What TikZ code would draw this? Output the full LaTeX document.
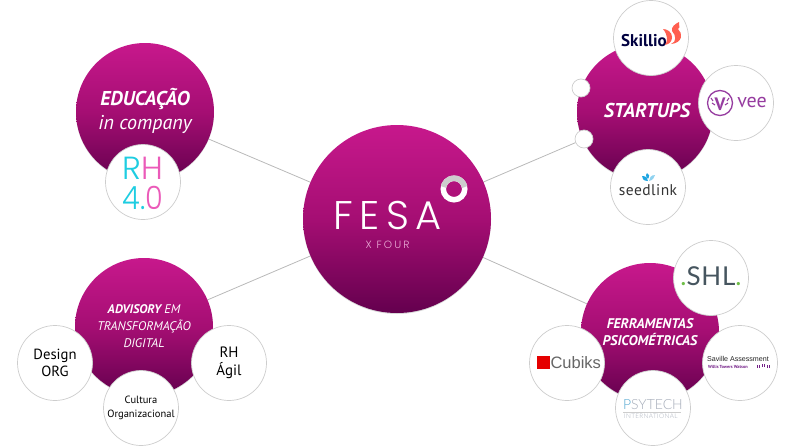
\documentclass[tikz,border=0pt]{standalone}
\usepackage{fontspec}
\setmainfont{PT Sans}
\newfontfamily\logofont{Poppins Light}
\newfontfamily\lightfont{Lato Light}
\newfontfamily\plainfont{Lato}
\newfontfamily\arialfont{Liberation Sans}
\newfontfamily\rhfont[LetterSpace=6]{Poppins Light}
\newfontfamily\rhfontslim[FakeStretch=.9,LetterSpace=2]{Poppins Light}
\usetikzlibrary{positioning, shadows, backgrounds}
\definecolor{colorHubTop}{RGB}{199,24,140}
\definecolor{colorHubMid}{RGB}{165,14,115}
\definecolor{colorHubBottom}{RGB}{100,0,78}
\definecolor{colorLink}{RGB}{185,185,185}
\definecolor{colorRing}{RGB}{205,205,205}
\definecolor{colorVee}{RGB}{150,60,160}
\definecolor{colorWtw}{RGB}{115,30,135}
\definecolor{colorSkillio}{RGB}{255,95,80}
\definecolor{colorSeed}{RGB}{30,165,225}
\definecolor{colorRhCyan}{RGB}{30,205,225}
\definecolor{colorRhPink}{RGB}{235,90,185}
\definecolor{colorShl}{RGB}{70,85,95}
\definecolor{colorShlDot}{RGB}{110,190,70}
\definecolor{colorPsy}{RGB}{165,172,185}
\tikzset{
  hub/.style={circle, inner sep=0pt, outer sep=0pt, minimum size=138pt, align=center, text=white,
    top color=colorHubTop, bottom color=colorHubBottom, middle color=colorHubMid,
    drop shadow={opacity=.3, shadow xshift=0pt, shadow yshift=-1pt}},
  satellite/.style={circle, draw=colorRing, line width=.7pt, fill=white, inner sep=0pt, outer sep=0pt,
    minimum size=75pt, align=center, text=black},
  dot/.style={satellite, minimum size=18pt},
  link/.style={draw=colorLink, line width=.8pt},
  logo/.style={inner sep=0pt, outer sep=0pt, align=center},
  veetick/.style={colorVee, line width=1pt}
}
\begin{document}
\begin{tikzpicture}[x=1pt, y=-1pt]
\useasboundingbox (0,0) rectangle (794,447);
% hubs
\node[hub, minimum size=188pt] (fesa) at (397,219) {};
\node[hub] (edu) at (145,112) {};
\node[hub, minimum size=136pt] (startups) at (645,112) {};
\node[hub] (advisory) at (144,327) {};
\node[hub] (tools) at (650,332) {};
% satellites
\node[satellite] (rh40) at (143,182) {};
\node[satellite] (skillio) at (651,38) {};
\node[satellite] (vee) at (736,103) {};
\node[satellite] (seedlink) at (648,187) {};
\node[dot] (dotA) at (581,88) {};
\node[dot] (dotB) at (584,139) {};
\node[satellite] (shl) at (711,278) {};
\node[satellite] (saville) at (740,363) {};
\node[satellite] (cubiks) at (567,363) {};
\node[satellite] (psytech) at (653,408) {};
\node[satellite, font=\fontsize{14.7}{17}\selectfont] (design) at (55,363) {Design\\ORG};
\node[satellite, font=\fontsize{10.5}{14}\selectfont] (cultura) at (141,408) {Cultura\\Organizacional};
\node[satellite, font=\fontsize{15}{17.5}\selectfont] (agil) at (229,363) {RH\\Ágil};
% links
\begin{scope}[on background layer]
\draw[link] (fesa) -- (edu);
\draw[link] (fesa) -- (advisory);
\draw[link] (fesa) -- (tools);
\draw[link] (fesa) -- (dotB);
\end{scope}
% hub texts
\node[logo, text=white, font=\fontsize{20}{23.5}\selectfont\itshape] (eduText) at (145,111) {\textbf{EDUCAÇÃO}\\in company};
\node[logo, text=white, font=\fontsize{20}{24}\selectfont\itshape] (startupsText) at (647,110) {\textbf{STARTUPS}};
\node[logo, text=white, font=\fontsize{12.5}{17}\selectfont\itshape] (advisoryText) at (144,326) {\textbf{ADVISORY} EM\\TRANSFORMAÇÃO\\DIGITAL};
\node[logo, text=white, font=\fontsize{14}{17.5}\selectfont\itshape] (toolsText) at (650,332) {\textbf{FERRAMENTAS}\\\textbf{PSICOMÉTRICAS}};
% fesa logo
\node[logo, text=white, font=\fontsize{40}{42}\logofont\addfontfeature{LetterSpace=16}] (fesaText) at (387.5,215) {FESA};
\node[logo, text=colorHubTop!35!white, below=12pt of fesaText, font=\fontsize{10.5}{12}\logofont\addfontfeature{LetterSpace=20}] (fourText) {X FOUR};
\node[circle, draw=white, line width=5.5pt, minimum size=21.5pt, inner sep=0pt] (ring) at (454,189) {};
\draw[colorRing, line width=5.5pt] ([shift={(10.75,0)}]ring.center) ++(0,-2) arc[start angle=10, end angle=170, radius=10.75pt];
% rh 4.0
\node[logo, font=\fontsize{32}{32}\rhfont] (rhText) at (143,168) {\textcolor{colorRhCyan}{R}\textcolor{colorRhPink}{H}};
\node[logo, font=\fontsize{32}{32}\rhfontslim] (rhVersion) at (143,198) {\textcolor{colorRhCyan}{4.}\textcolor{colorRhPink}{0}};
% skillio
\node[logo, text=black!75!blue, font=\fontsize{17}{18}\selectfont\bfseries] (skillioText) at (644,41) {Skillio};
\fill[colorSkillio] (663,29) .. controls (667,29) and (672,32) .. (672,37) .. controls (672,41) and (670,44) .. (665,45) .. controls (668,41) and (668,35) .. (663,29) -- cycle;
\fill[colorSkillio] (671,44) .. controls (677,42) and (676,35) .. (672,31) .. controls (671,27) and (675,24) .. (679,22) .. controls (678,25) and (681,27) .. (678,29) .. controls (683,33) and (683,43) .. (671,44) -- cycle;
% vee
\draw[colorVee, line width=1.3pt] (720,103) circle[radius=12.5pt];
\node[logo, text=colorVee, font=\fontsize{18}{18}\selectfont\bfseries] (veeMark) at (720,104) {V};
\draw[veetick] (713,101) -- (711,98);
\draw[veetick] (727,101) -- (729,98);
% second pair of ticks
\draw[veetick] (715,105) -- (712,103);
\draw[veetick] (725,105) -- (728,103);
\node[logo, text=colorVee, font=\fontsize{20}{20}\selectfont] (veeText) at (752,102) {vee};
% seedlink
\node[logo, text=black!80, font=\fontsize{15.5}{16}\selectfont\addfontfeature{LetterSpace=3}] (seedText) at (648,190) {seedlink};
\fill[colorSeed] (648,181) .. controls (643,181) and (642,178) .. (642,176) .. controls (646,176) and (648,178) .. (648,181) -- cycle;
\fill[colorSeed] (648,179) .. controls (645,176) and (646,174) .. (647,173) .. controls (649,174) and (650,176) .. (648,179) -- cycle;
\fill[colorSeed!50!white] (649,181) .. controls (653,180) and (654,178) .. (655,175) .. controls (651,175) and (649,178) .. (649,181) -- cycle;
% shl
\node[logo, text=colorShl, font=\fontsize{26}{28}\plainfont\addfontfeature{LetterSpace=3}] (shlText) at (711,276) {\textcolor{colorShlDot}{.}SHL\textcolor{colorShlDot}{.}};
% saville
\node[logo, text=black!85, font=\fontsize{7.1}{9}\arialfont] (savilleText) at (738,359) {Saville Assessment};
\node[logo, text=colorWtw, anchor=west, font=\fontsize{4.4}{5}\selectfont\bfseries] (wtwText) at (708,367) {Willis Towers Watson};
\foreach \barx/\bary in {757/0, 759/0, 762/-1, 764/-1, 767/0, 769/0}
  \fill[colorWtw] (\barx,365+\bary) rectangle ++(1.1,3);
% cubiks
\fill[red!90!black] (537,356) rectangle (549.5,369);
\node[logo, text=black!60, anchor=west, font=\fontsize{16.5}{18}\arialfont] (cubiksText) at (550.5,363) {Cubiks};
% psytech
\node[logo, text=colorPsy, anchor=west, font=\fontsize{14}{15}\lightfont] (psyText) at (623,405) {\textcolor{colorSeed!60!colorPsy}{P}SYTECH};
\draw[colorRing, line width=.5pt] (623,412) -- (681,412);
\node[logo, text=colorPsy, anchor=west, font=\fontsize{6.4}{7}\lightfont\addfontfeature{LetterSpace=6}] (interText) at (624,416) {INTERNATIONAL};
\end{tikzpicture}
\end{document}
